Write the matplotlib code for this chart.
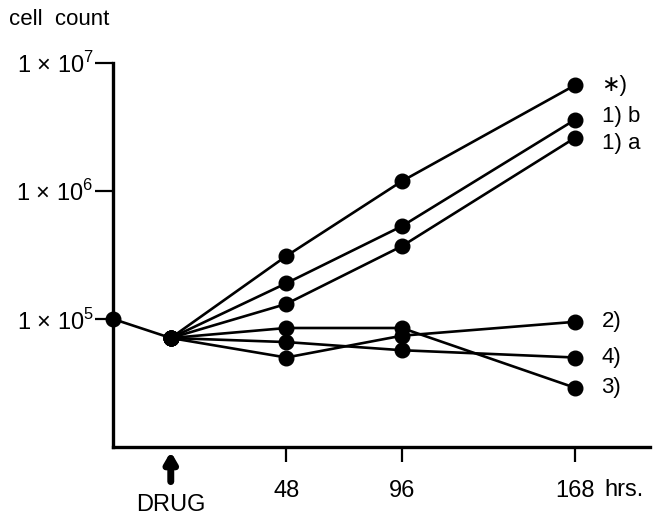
#!/usr/bin/env python

import matplotlib
matplotlib.use("Agg")
import matplotlib.pyplot as plt
from matplotlib.ticker import FixedLocator, NullLocator

plt.rcParams['font.family'] = ['Liberation Sans', 'DejaVu Sans']
plt.rcParams['mathtext.fontset'] = 'custom'
plt.rcParams['mathtext.rm'] = 'Liberation Sans'

# cell counts before the drug and at the time it is added
base_hours = [-24, 0]
base_counts = [1.0e5, 7.1e4]

# counts after the drug, per series
treat_hours = [0, 48, 96, 168]
series_names = ['\u2217)', '1) b', '1) a', '2)', '4)', '3)']
series_counts = [
    [7.1e4, 3.1e5, 1.19e6, 6.7e6],
    [7.1e4, 1.9e5, 5.3e5, 3.6e6],
    [7.1e4, 1.31e5, 3.7e5, 2.6e6],
    [7.1e4, 5.0e4, 7.4e4, 9.5e4],
    [7.1e4, 6.6e4, 5.7e4, 5.0e4],
    [7.1e4, 8.5e4, 8.5e4, 2.9e4],
]

x_ticks = [48, 96, 168]
x_tick_labels = ['48', '96', '168']
y_ticks = [1e5, 1e6, 1e7]
y_tick_labels = [r'1 $\times$ 10$^{5}$', r'1 $\times$ 10$^{6}$', r'1 $\times$ 10$^{7}$']

fig = plt.figure(figsize=(6.57, 5.15), dpi=100)
ax = fig.add_axes([0.172, 0.132, 0.817, 0.746])

line_kw = dict(color='black', lw=1.9, marker='o', ms=10.5, clip_on=False, zorder=3)
ax.plot(base_hours, base_counts, **line_kw)
for name, counts in zip(series_names, series_counts):
    ax.plot(treat_hours, counts, **line_kw)
    dy = {'1) b': 2, '1) a': -4}.get(name, 0)  # keep the two close labels apart
    ax.annotate(name, xy=(treat_hours[-1], counts[-1]), xytext=(19, dy),
                textcoords='offset points', va='center', ha='left', fontsize=16)

ax.set_yscale('log')
ax.set_ylim(1e4, 1e7)
ax.set_xlim(-24, 199)

ax.spines['top'].set_visible(False)
ax.spines['right'].set_visible(False)
ax.spines['left'].set_linewidth(2.4)
ax.spines['bottom'].set_linewidth(2.4)

ax.yaxis.set_major_locator(FixedLocator(y_ticks))
ax.yaxis.set_minor_locator(NullLocator())
ax.set_yticklabels(y_tick_labels, fontsize=17)
ax.tick_params(axis='y', length=13, width=1.6, pad=1)

ax.set_xticks(x_ticks)
ax.set_xticklabels(x_tick_labels, fontsize=17)
ax.tick_params(axis='x', length=11, width=1.6, pad=13)

# "hrs." after the last tick label
ax.text(180, -0.082, 'hrs.', transform=ax.get_xaxis_transform(),
        ha='left', va='top', fontsize=17)

# drug arrow and label
ax.annotate('', xy=(0, -0.012), xytext=(0, -0.09),
            xycoords=ax.get_xaxis_transform(), textcoords=ax.get_xaxis_transform(),
            arrowprops=dict(arrowstyle='-|>,head_width=0.35,head_length=0.6',
                            lw=5, color='black', shrinkA=0, shrinkB=0))
ax.text(0, -0.122, 'DRUG', transform=ax.get_xaxis_transform(),
        ha='center', va='top', fontsize=17)

fig.text(0.014, 0.962, 'cell  count', ha='left', va='center', fontsize=16)

fig.savefig('out.png', dpi=100)
